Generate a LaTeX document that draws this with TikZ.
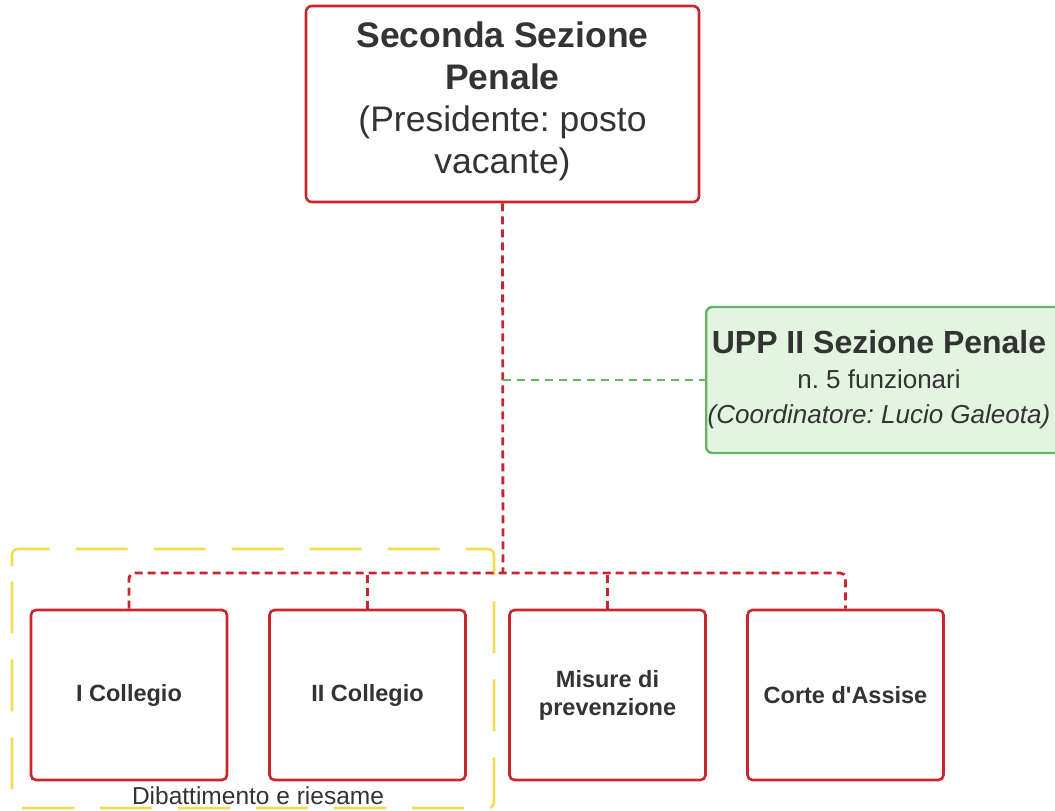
\documentclass[tikz,border=0pt]{standalone}
\usepackage{fontspec}
\setmainfont{Liberation Sans}
\begin{document}
\frenchspacing
\definecolor{boxred}{HTML}{C8262C}
\definecolor{upgreen}{HTML}{62B562}
\definecolor{upfill}{HTML}{E3F5E0}
\definecolor{grpyellow}{HTML}{F0DC55}
\definecolor{txt}{HTML}{333333}
\begin{tikzpicture}[x=1pt,y=-1pt,
  unit/.style={draw=boxred, line width=2.6pt, rounded corners=5pt, fill=white,
    minimum width=196pt, minimum height=170pt, inner sep=0pt, align=center,
    text=txt, font=\fontsize{23.5}{28}\selectfont\bfseries},
  link/.style={draw=boxred, line width=2.8pt, dash pattern=on 8pt off 5pt},
  greenlink/.style={draw=upgreen, line width=2.8pt, dash pattern=on 8pt off 6pt},
]
\useasboundingbox (0,0) rectangle (1055,811);
\clip (0,0) rectangle (1055,811);

% group frame around the two colleges
\draw[grpyellow, line width=2.6pt, rounded corners=6pt, dash pattern=on 52pt off 26pt]
  (12,572) -- (12,549) -- (494,549) -- (494,808) -- (12,808) -- cycle;
\node[text=txt, font=\fontsize{24.5}{28}\selectfont] (grp) at (258,796) {Dibattimento e riesame};

% head of section
\node[draw=boxred, line width=2.6pt, rounded corners=6pt, fill=white,
  minimum width=393pt, minimum height=196pt, inner sep=0pt] (top) at (502.5,104) {};
\node[align=center, text=txt, font=\fontsize{35.5}{42}\selectfont] (toptxt) at (502.5,101)
  {\textbf{Seconda Sezione}\\\textbf{Penale}\\(Presidente: posto\\vacante)};

% staff office
\node[draw=upgreen, line width=2.4pt, rounded corners=6pt, fill=upfill,
  minimum width=370pt, minimum height=146pt, inner sep=0pt, anchor=west] (upp) at (705,380) {};
\node[text=txt, align=center, font=\fontsize{26}{35}\selectfont] (upptxt) at (879,380)
  {{\fontsize{32}{35}\selectfont\bfseries UPP II Sezione Penale}\\n. 5 funzionari\\\textit{(Coordinatore: Lucio Galeota)}};

% units
\node[unit] (c1) at (129,695) {I Collegio};
\node[unit] (c2) at (367.5,695) {II Collegio};
\node[unit] (c3) at (607.5,695) {Misure di\\prevenzione};
\node[unit] (c4) at (845.5,695) {Corte d\textquotesingle Assise};

% connectors
\coordinate (jn) at (503,573);
\coordinate (tap) at (503,380);
\draw[link] (top.south) -- (jn);
\draw[link, rounded corners=5pt] (c1.north) |- (jn) -| (c4.north);
\draw[link] (c2.north) -- (c2.north |- jn);
\draw[link] (c3.north) -- (c3.north |- jn);
\draw[greenlink] (tap) -- (upp.west);
\end{tikzpicture}
\end{document}
